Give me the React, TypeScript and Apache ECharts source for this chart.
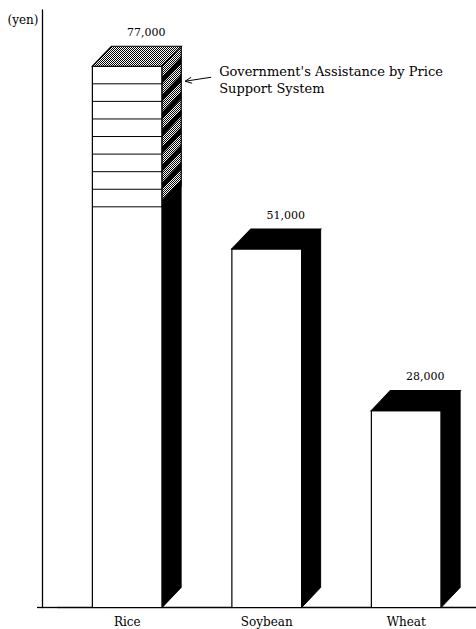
import React, { useEffect, useRef } from "react";
import * as echarts from "echarts";

const categories = ["Rice", "Soybean", "Wheat"];
const prices = [77000, 51000, 28000];
const valueLabels = ["77,000", "51,000", "28,000"];
const supportAmounts = [20000, 0, 0];
const supportLayers = [8, 0, 0];
const annotationLines = ["Government's Assistance by Price", "Support System"];
const yAxisName = "(yen)";
const yMin = 0;
const yMax = 85000;

const FONT = "'DejaVu Serif', 'Liberation Serif', serif";

function makeDotPattern(): any {
  const c = document.createElement("canvas");
  c.width = 4;
  c.height = 4;
  const ctx = c.getContext("2d")!;
  ctx.fillStyle = "#fff";
  ctx.fillRect(0, 0, 4, 4);
  ctx.fillStyle = "#000";
  for (let x = 0; x < 4; x++) {
    for (let y = 0; y < 4; y++) {
      if ((x + y) % 2 === 0) ctx.fillRect(x, y, 1, 1);
    }
  }
  return { image: c.toDataURL(), repeat: "repeat", imageWidth: 4, imageHeight: 4 };
}

export default function App() {
  const ref = useRef<HTMLDivElement>(null);

  useEffect(() => {
    if (!ref.current) return;
    const chart = echarts.init(ref.current, null, { renderer: "svg" });
    const dots = makeDotPattern();
    const DX = 19;
    const DY = 20;

    const renderItem = (params: any, api: any) => {
      const idx = api.value(0);
      const val = api.value(1);
      const support = api.value(2);
      const layers = api.value(3);
      const top = api.coord([idx, val]);
      const base = api.coord([idx, 0]);
      const band = api.size([1, 0])[0];
      const w = band * 0.5;
      const x0 = top[0] - w / 2;
      const x1 = top[0] + w / 2;
      const yT = top[1];
      const yB = base[1];
      const children: any[] = [];

      children.push({
        type: "rect",
        shape: { x: x0, y: yT, width: w, height: yB - yT },
        style: { fill: "#fff", stroke: "#000", lineWidth: 1.2 },
      });
      children.push({
        type: "polygon",
        shape: { points: [[x1, yT], [x1 + DX, yT - DY], [x1 + DX, yB - DY], [x1, yB]] },
        style: { fill: "#000", stroke: "#000", lineWidth: 1 },
      });
      children.push({
        type: "polygon",
        shape: { points: [[x0, yT], [x0 + DX, yT - DY], [x1 + DX, yT - DY], [x1, yT]] },
        style: { fill: support > 0 ? dots : "#000", stroke: "#000", lineWidth: 1.2 },
      });

      if (support > 0) {
        const ySup = api.coord([idx, val - support])[1];
        children.push({
          type: "polygon",
          shape: { points: [[x1, yT], [x1 + DX, yT - DY], [x1 + DX, ySup - DY], [x1, ySup]] },
          style: { fill: dots, stroke: "#000", lineWidth: 1 },
        });
        for (let k = 1; k <= layers; k++) {
          const yk = yT + ((ySup - yT) * k) / layers;
          children.push({
            type: "polygon",
            shape: { points: [[x1, yk], [x1 + DX, yk - DY], [x1 + DX, yk - DY - 7], [x1, yk - 7]] },
            style: { fill: "#000" },
          });
          children.push({
            type: "line",
            shape: { x1: x0, y1: yk, x2: x1, y2: yk },
            style: { stroke: "#000", lineWidth: 1 },
          });
        }
        // annotation arrow and text
        const tipX = x1 + DX + 4;
        const tipY = yT + 15;
        children.push({
          type: "line",
          shape: { x1: x1 + DX + 30, y1: yT + 11, x2: tipX, y2: tipY },
          style: { stroke: "#000", lineWidth: 1 },
        });
        children.push({
          type: "polyline",
          shape: { points: [[tipX + 6, tipY - 4], [tipX, tipY], [tipX + 7, tipY + 2]] },
          style: { stroke: "#000", lineWidth: 1, fill: "none" },
        });
        annotationLines.forEach((line, li) => {
          children.push({
            type: "text",
            style: {
              x: x1 + DX + 38,
              y: yT + 5 + li * 17,
              text: line,
              fill: "#000",
              font: `13px ${FONT}`,
              align: "left",
              verticalAlign: "middle",
            },
          });
        });
      }

      children.push({
        type: "text",
        style: {
          x: top[0] + DX,
          y: yT - DY - 14,
          text: valueLabels[idx],
          fill: "#000",
          font: `11px ${FONT}`,
          align: "center",
          verticalAlign: "middle",
        },
      });

      return { type: "group", children };
    };

    const gridLeft = 57.5;
    const gridTop = 10;
    const gridBottom = 21.5;
    const axisX = 42.5;

    chart.setOption({
      animation: false,
      backgroundColor: "#fff",
      grid: { left: gridLeft, top: gridTop, bottom: gridBottom, width: 423, containLabel: false },
      xAxis: {
        type: "category",
        data: categories,
        axisTick: { show: false },
        axisLine: { lineStyle: { color: "#000", width: 1.3 } },
        axisLabel: { color: "#000", fontFamily: FONT, fontSize: 12, margin: 8 },
      },
      yAxis: {
        type: "value",
        min: yMin,
        max: yMax,
        offset: gridLeft - axisX,
        axisLine: { show: true, lineStyle: { color: "#000", width: 1.3 } },
        axisTick: { show: false },
        axisLabel: { show: false },
        splitLine: { show: false },
        name: yAxisName,
        nameLocation: "end",
        nameGap: -10,
        nameTextStyle: {
          color: "#000",
          fontFamily: FONT,
          fontSize: 12,
          align: "right",
          verticalAlign: "middle",
          padding: [0, 4, 0, 0],
        },
      },
      graphic: [
        {
          type: "line",
          shape: { x1: 37, y1: 629 - gridBottom, x2: gridLeft, y2: 629 - gridBottom },
          style: { stroke: "#000", lineWidth: 1.3 },
        },
      ],
      series: [
        {
          type: "custom",
          renderItem,
          clip: false,
          encode: { x: 0, y: 1 },
          data: categories.map((_, i) => [i, prices[i], supportAmounts[i], supportLayers[i]]),
        },
      ],
    });

    return () => chart.dispose();
  }, []);

  return (
    <div
      ref={ref}
      style={{ position: "fixed", left: 0, top: 0, width: 476, height: 629, background: "#fff" }}
    />
  );
}
